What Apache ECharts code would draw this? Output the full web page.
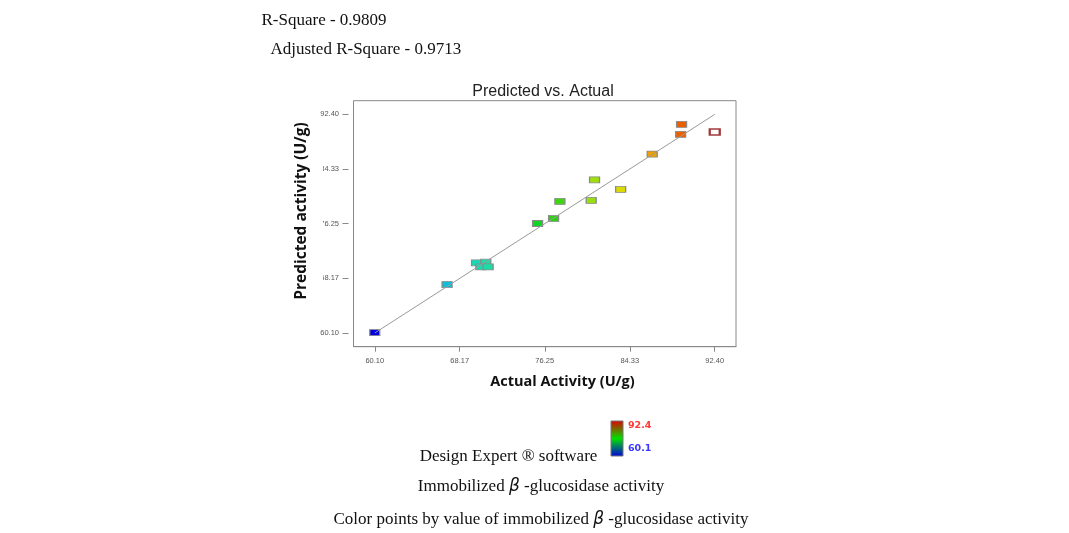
<!DOCTYPE html>
<html lang="en">
	<head>
		<meta charset="UTF-8">
		<title>Predicted vs. Actual</title>
		<style type="text/css">
			html,
			body,
			#main {
				padding: 0;
				margin: 0;
				overflow: hidden;
				background-color: #fff;
				width: 100%;
				height: 100%;
			}
		</style>
	</head>
	<body>
		<div id="main"></div>
		<script type="text/javascript" src="https://cdn.jsdelivr.net/npm/echarts@6/dist/echarts.min.js"></script>
		<script type="text/javascript">
			// actual vs predicted activity (U/g)
			const actualValues = [60.10, 66.97, 69.77, 70.65, 70.18, 70.87, 75.57, 77.09, 77.69, 80.66, 80.98, 83.46, 86.46, 89.16, 89.25];
			const predictedValues = [60.16, 67.26, 70.46, 70.56, 69.86, 69.86, 76.28, 77.02, 79.54, 79.69, 82.73, 81.31, 86.54, 89.45, 90.93];
			// highest actual value, drawn hollow
			const maxActual = 92.40;
			const maxPredicted = 89.79;
			const tickValues = [60.10, 68.17, 76.25, 84.33, 92.40];
			const axisMin = 58.08;
			const axisMax = 94.42;
			const colorMin = 60.1;
			const colorMax = 92.4;

			const serif = '"Liberation Serif", "Times New Roman", serif';
			const sans = '"Liberation Sans", Arial, sans-serif';

			const points = actualValues.map(function (a, i) {
				return [a, predictedValues[i], a];
			});

			const chart = echarts.init(document.getElementById('main'), null, { renderer: 'canvas' });

			function axisCommon (isY) {
				return {
					type: 'value',
					min: axisMin,
					max: axisMax,
					offset: isY ? 5 : 0,
					axisLine: { show: !isY, lineStyle: { color: '#888' } },
					axisTick: {
						show: true,
						length: isY ? 6 : 5,
						customValues: tickValues,
						lineStyle: { color: '#888' }
					},
					axisLabel: {
						customValues: tickValues,
						formatter: function (v) { return v.toFixed(2); },
						fontFamily: sans,
						fontSize: 7.5,
						color: '#555',
						margin: isY ? 9.5 : 10
					},
					splitLine: { show: false }
				};
			}

			const betaStyle = { fontStyle: 'italic', fontFamily: '"DejaVu Sans", sans-serif', fontSize: 17, fill: '#111' };

			const option = {
				backgroundColor: '#fff',
				animation: false,
				grid: {
					left: 353.5,
					right: 333,
					top: 100.7,
					bottom: 186.3,
					show: true,
					borderColor: '#888',
					borderWidth: 1,
					backgroundColor: 'transparent'
				},
				xAxis: axisCommon(false),
				yAxis: axisCommon(true),
				visualMap: {
					show: false,
					type: 'continuous',
					seriesIndex: 0,
					dimension: 2,
					min: colorMin,
					max: colorMax,
					inRange: {
						color: ['#0000e0', '#0080f0', '#10d8d0', '#20e090', '#10d010', '#90e010', '#f0d800', '#f07000', '#e02000']
					}
				},
				series: [
					{
						type: 'scatter',
						data: points,
						symbol: 'rect',
						symbolSize: [10, 6],
						z: 2,
						itemStyle: { borderColor: '#8a8a8a', borderWidth: 1, opacity: 1 }
					},
					{
						type: 'scatter',
						data: [[maxActual, maxPredicted]],
						symbol: 'rect',
						symbolSize: [10, 6],
						z: 2,
						itemStyle: { color: '#fff', borderColor: '#8c0a0a', borderWidth: 1.8 }
					},
					{
						type: 'line',
						data: [[tickValues[0], tickValues[0]], [tickValues[4], tickValues[4]]],
						symbol: 'none',
						z: 3,
						silent: true,
						lineStyle: { color: '#9a9a9a', width: 1 }
					}
				],
				graphic: [
					// white strip behind the y title, it hides the first digit of the middle labels
					{ type: 'rect', z: 10, shape: { x: 286, y: 122, width: 37, height: 178 }, style: { fill: '#fff' } },
					{
						type: 'text', z: 11, x: 301.5, y: 211, rotation: Math.PI / 2,
						style: { text: 'Predicted activity (U/g)', font: 'bold 15.5px "Open Sans", sans-serif', fill: '#111', align: 'center', verticalAlign: 'middle' }
					},
					{
						type: 'text', z: 11, x: 562.5, y: 382,
						style: { text: 'Actual Activity (U/g)', font: 'bold 14.5px "Open Sans", sans-serif', fill: '#111', align: 'center', verticalAlign: 'middle' }
					},
					{
						type: 'text', z: 11, x: 543, y: 92,
						style: { text: 'Predicted vs. Actual', font: '16px ' + sans, fill: '#222', align: 'center', verticalAlign: 'middle' }
					},
					{
						type: 'text', z: 11, x: 261.5, y: 21,
						style: { text: 'R-Square - 0.9809', font: '17px ' + serif, fill: '#111', align: 'left', verticalAlign: 'middle' }
					},
					{
						type: 'text', z: 11, x: 270.5, y: 50,
						style: { text: 'Adjusted R-Square - 0.9713', font: '17px ' + serif, fill: '#111', align: 'left', verticalAlign: 'middle' }
					},
					{
						type: 'text', z: 11, x: 508.5, y: 457,
						style: { text: 'Design Expert \u00ae software', font: '17px ' + serif, fill: '#111', align: 'center', verticalAlign: 'middle' }
					},
					{
						type: 'text', z: 11, x: 541, y: 487,
						style: {
							text: 'Immobilized {b|\u03b2} -glucosidase activity',
							font: '17px ' + serif, fill: '#111', align: 'center', verticalAlign: 'middle',
							rich: { b: betaStyle }
						}
					},
					{
						type: 'text', z: 11, x: 541, y: 519.5,
						style: {
							text: 'Color points by value of immobilized {b|\u03b2} -glucosidase activity',
							font: '17px ' + serif, fill: '#111', align: 'center', verticalAlign: 'middle',
							rich: { b: betaStyle }
						}
					},
					// colour key
					{
						type: 'rect', z: 11,
						shape: { x: 611, y: 421, width: 12, height: 35 },
						style: {
							fill: new echarts.graphic.LinearGradient(0, 0, 0, 1, [
								{ offset: 0, color: '#e00000' },
								{ offset: 0.5, color: '#00e000' },
								{ offset: 1, color: '#0000e0' }
							]),
							stroke: '#777',
							lineWidth: 1
						}
					},
					{
						type: 'text', z: 11, x: 628, y: 426,
						style: { text: String(colorMax), font: 'bold 9.5px "DejaVu Sans", sans-serif', fill: '#ff3838', align: 'left', verticalAlign: 'middle' }
					},
					{
						type: 'text', z: 11, x: 628, y: 449,
						style: { text: String(colorMin), font: 'bold 9.5px "DejaVu Sans", sans-serif', fill: '#3838ff', align: 'left', verticalAlign: 'middle' }
					}
				]
			};

			chart.setOption(option);
		</script>
	</body>
</html>
